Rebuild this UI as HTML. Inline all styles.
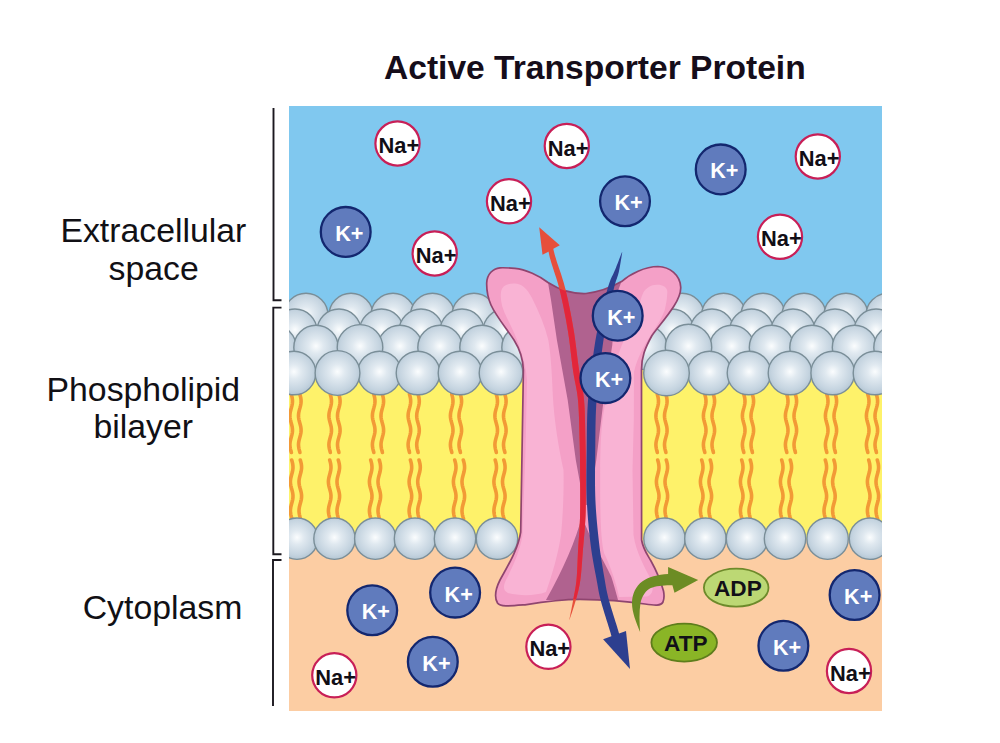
<!DOCTYPE html>
<html><head><meta charset="utf-8"><style>
html,body{margin:0;padding:0;background:#fff;}
svg{display:block;}
.title{font: bold 33.6px "Liberation Sans", sans-serif;}
.lab{font: 33.8px "Liberation Sans", sans-serif;}
.na{font: bold 22.8px "Liberation Sans", sans-serif;}
.kk{font: bold 22.3px "Liberation Sans", sans-serif;}
.atp{font: bold 22.6px "Liberation Sans", sans-serif;}
</style></head><body>
<svg width="1000" height="743" viewBox="0 0 1000 743">
<defs>
<clipPath id="pclip"><rect x="289" y="106" width="593" height="605"/></clipPath>
<radialGradient id="sph" cx="0.5" cy="0.47" r="0.56">
<stop offset="0" stop-color="#fbfdfe"/>
<stop offset="0.3" stop-color="#e0e9f0"/>
<stop offset="0.75" stop-color="#c5d4e0"/>
<stop offset="1" stop-color="#b0c3d1"/>
</radialGradient>
</defs>
<rect x="0" y="0" width="1000" height="743" fill="#ffffff"/>
<text x="384" y="78.5" class="title" fill="#150d1a">Active Transporter Protein</text>
<g class="lab" fill="#111015"><text x="60.4" y="242.3">Extracellular</text><text x="108.5" y="279.5">space</text><text x="46.5" y="400.6">Phospholipid</text><text x="93.4" y="437.6">bilayer</text><text x="82.7" y="618.5">Cytoplasm</text></g>
<g fill="none" stroke="#1b181f" stroke-width="1.9"><path d="M273.5,108 L273.5,300.2 L281.5,300.2"/><path d="M281.5,307.6 L273.3,307.6 L273.3,554.2 L281.5,554.2"/><path d="M281.5,560 L273,560 L273,706"/></g>
<g clip-path="url(#pclip)">
<rect x="289" y="106" width="593" height="230" fill="#80c8ef"/>
<rect x="289" y="330" width="593" height="210" fill="#fef26a"/>
<rect x="289" y="540" width="593" height="171" fill="#fccda3"/>
<polyline points="291.20,394.00 291.73,395.95 292.17,397.90 292.44,399.85 292.49,401.80 292.31,403.75 291.94,405.70 291.44,407.65 290.89,409.60 290.40,411.55 290.05,413.50 289.90,415.45 289.98,417.40 290.28,419.35 290.73,421.30 291.27,423.25 291.80,425.20 292.22,427.15 292.46,429.10 292.48,431.05 292.28,433.00 291.88,434.95 291.37,436.90 290.83,438.85 290.35,440.80 290.02,442.75 289.90,444.70 290.01,446.65 290.33,448.60 290.80,450.55 291.34,452.50" fill="none" stroke="#f29a36" stroke-width="3.6" stroke-linecap="round"/>
<polyline points="299.80,394.00 300.33,395.95 300.77,397.90 301.04,399.85 301.09,401.80 300.91,403.75 300.54,405.70 300.04,407.65 299.49,409.60 299.00,411.55 298.65,413.50 298.50,415.45 298.58,417.40 298.88,419.35 299.33,421.30 299.87,423.25 300.40,425.20 300.82,427.15 301.06,429.10 301.08,431.05 300.88,433.00 300.48,434.95 299.97,436.90 299.43,438.85 298.95,440.80 298.62,442.75 298.50,444.70 298.61,446.65 298.93,448.60 299.40,450.55 299.94,452.50" fill="none" stroke="#f29a36" stroke-width="3.6" stroke-linecap="round"/>
<polyline points="330.20,394.00 330.73,395.95 331.17,397.90 331.44,399.85 331.49,401.80 331.31,403.75 330.94,405.70 330.44,407.65 329.89,409.60 329.40,411.55 329.05,413.50 328.90,415.45 328.98,417.40 329.28,419.35 329.73,421.30 330.27,423.25 330.80,425.20 331.22,427.15 331.46,429.10 331.48,431.05 331.28,433.00 330.88,434.95 330.37,436.90 329.83,438.85 329.35,440.80 329.02,442.75 328.90,444.70 329.01,446.65 329.33,448.60 329.80,450.55 330.34,452.50" fill="none" stroke="#f29a36" stroke-width="3.6" stroke-linecap="round"/>
<polyline points="338.80,394.00 339.33,395.95 339.77,397.90 340.04,399.85 340.09,401.80 339.91,403.75 339.54,405.70 339.04,407.65 338.49,409.60 338.00,411.55 337.65,413.50 337.50,415.45 337.58,417.40 337.88,419.35 338.33,421.30 338.87,423.25 339.40,425.20 339.82,427.15 340.06,429.10 340.08,431.05 339.88,433.00 339.48,434.95 338.97,436.90 338.43,438.85 337.95,440.80 337.62,442.75 337.50,444.70 337.61,446.65 337.93,448.60 338.40,450.55 338.94,452.50" fill="none" stroke="#f29a36" stroke-width="3.6" stroke-linecap="round"/>
<polyline points="373.70,394.00 374.23,395.95 374.67,397.90 374.94,399.85 374.99,401.80 374.81,403.75 374.44,405.70 373.94,407.65 373.39,409.60 372.90,411.55 372.55,413.50 372.40,415.45 372.48,417.40 372.78,419.35 373.23,421.30 373.77,423.25 374.30,425.20 374.72,427.15 374.96,429.10 374.98,431.05 374.78,433.00 374.38,434.95 373.87,436.90 373.33,438.85 372.85,440.80 372.52,442.75 372.40,444.70 372.51,446.65 372.83,448.60 373.30,450.55 373.84,452.50" fill="none" stroke="#f29a36" stroke-width="3.6" stroke-linecap="round"/>
<polyline points="382.30,394.00 382.83,395.95 383.27,397.90 383.54,399.85 383.59,401.80 383.41,403.75 383.04,405.70 382.54,407.65 381.99,409.60 381.50,411.55 381.15,413.50 381.00,415.45 381.08,417.40 381.38,419.35 381.83,421.30 382.37,423.25 382.90,425.20 383.32,427.15 383.56,429.10 383.58,431.05 383.38,433.00 382.98,434.95 382.47,436.90 381.93,438.85 381.45,440.80 381.12,442.75 381.00,444.70 381.11,446.65 381.43,448.60 381.90,450.55 382.44,452.50" fill="none" stroke="#f29a36" stroke-width="3.6" stroke-linecap="round"/>
<polyline points="409.40,394.00 409.93,395.95 410.37,397.90 410.64,399.85 410.69,401.80 410.51,403.75 410.14,405.70 409.64,407.65 409.09,409.60 408.60,411.55 408.25,413.50 408.10,415.45 408.18,417.40 408.48,419.35 408.93,421.30 409.47,423.25 410.00,425.20 410.42,427.15 410.66,429.10 410.68,431.05 410.48,433.00 410.08,434.95 409.57,436.90 409.03,438.85 408.55,440.80 408.22,442.75 408.10,444.70 408.21,446.65 408.53,448.60 409.00,450.55 409.54,452.50" fill="none" stroke="#f29a36" stroke-width="3.6" stroke-linecap="round"/>
<polyline points="418.00,394.00 418.53,395.95 418.97,397.90 419.24,399.85 419.29,401.80 419.11,403.75 418.74,405.70 418.24,407.65 417.69,409.60 417.20,411.55 416.85,413.50 416.70,415.45 416.78,417.40 417.08,419.35 417.53,421.30 418.07,423.25 418.60,425.20 419.02,427.15 419.26,429.10 419.28,431.05 419.08,433.00 418.68,434.95 418.17,436.90 417.63,438.85 417.15,440.80 416.82,442.75 416.70,444.70 416.81,446.65 417.13,448.60 417.60,450.55 418.14,452.50" fill="none" stroke="#f29a36" stroke-width="3.6" stroke-linecap="round"/>
<polyline points="451.70,394.00 452.23,395.95 452.67,397.90 452.94,399.85 452.99,401.80 452.81,403.75 452.44,405.70 451.94,407.65 451.39,409.60 450.90,411.55 450.55,413.50 450.40,415.45 450.48,417.40 450.78,419.35 451.23,421.30 451.77,423.25 452.30,425.20 452.72,427.15 452.96,429.10 452.98,431.05 452.78,433.00 452.38,434.95 451.87,436.90 451.33,438.85 450.85,440.80 450.52,442.75 450.40,444.70 450.51,446.65 450.83,448.60 451.30,450.55 451.84,452.50" fill="none" stroke="#f29a36" stroke-width="3.6" stroke-linecap="round"/>
<polyline points="460.30,394.00 460.83,395.95 461.27,397.90 461.54,399.85 461.59,401.80 461.41,403.75 461.04,405.70 460.54,407.65 459.99,409.60 459.50,411.55 459.15,413.50 459.00,415.45 459.08,417.40 459.38,419.35 459.83,421.30 460.37,423.25 460.90,425.20 461.32,427.15 461.56,429.10 461.58,431.05 461.38,433.00 460.98,434.95 460.47,436.90 459.93,438.85 459.45,440.80 459.12,442.75 459.00,444.70 459.11,446.65 459.43,448.60 459.90,450.55 460.44,452.50" fill="none" stroke="#f29a36" stroke-width="3.6" stroke-linecap="round"/>
<polyline points="496.20,394.00 496.73,395.95 497.17,397.90 497.44,399.85 497.49,401.80 497.31,403.75 496.94,405.70 496.44,407.65 495.89,409.60 495.40,411.55 495.05,413.50 494.90,415.45 494.98,417.40 495.28,419.35 495.73,421.30 496.27,423.25 496.80,425.20 497.22,427.15 497.46,429.10 497.48,431.05 497.28,433.00 496.88,434.95 496.37,436.90 495.83,438.85 495.35,440.80 495.02,442.75 494.90,444.70 495.01,446.65 495.33,448.60 495.80,450.55 496.34,452.50" fill="none" stroke="#f29a36" stroke-width="3.6" stroke-linecap="round"/>
<polyline points="504.80,394.00 505.33,395.95 505.77,397.90 506.04,399.85 506.09,401.80 505.91,403.75 505.54,405.70 505.04,407.65 504.49,409.60 504.00,411.55 503.65,413.50 503.50,415.45 503.58,417.40 503.88,419.35 504.33,421.30 504.87,423.25 505.40,425.20 505.82,427.15 506.06,429.10 506.08,431.05 505.88,433.00 505.48,434.95 504.97,436.90 504.43,438.85 503.95,440.80 503.62,442.75 503.50,444.70 503.61,446.65 503.93,448.60 504.40,450.55 504.94,452.50" fill="none" stroke="#f29a36" stroke-width="3.6" stroke-linecap="round"/>
<polyline points="657.20,394.00 657.73,395.95 658.17,397.90 658.44,399.85 658.49,401.80 658.31,403.75 657.94,405.70 657.44,407.65 656.89,409.60 656.40,411.55 656.05,413.50 655.90,415.45 655.98,417.40 656.28,419.35 656.73,421.30 657.27,423.25 657.80,425.20 658.22,427.15 658.46,429.10 658.48,431.05 658.28,433.00 657.88,434.95 657.37,436.90 656.83,438.85 656.35,440.80 656.02,442.75 655.90,444.70 656.01,446.65 656.33,448.60 656.80,450.55 657.34,452.50" fill="none" stroke="#f29a36" stroke-width="3.6" stroke-linecap="round"/>
<polyline points="665.80,394.00 666.33,395.95 666.77,397.90 667.04,399.85 667.09,401.80 666.91,403.75 666.54,405.70 666.04,407.65 665.49,409.60 665.00,411.55 664.65,413.50 664.50,415.45 664.58,417.40 664.88,419.35 665.33,421.30 665.87,423.25 666.40,425.20 666.82,427.15 667.06,429.10 667.08,431.05 666.88,433.00 666.48,434.95 665.97,436.90 665.43,438.85 664.95,440.80 664.62,442.75 664.50,444.70 664.61,446.65 664.93,448.60 665.40,450.55 665.94,452.50" fill="none" stroke="#f29a36" stroke-width="3.6" stroke-linecap="round"/>
<polyline points="704.70,394.00 705.23,395.95 705.67,397.90 705.94,399.85 705.99,401.80 705.81,403.75 705.44,405.70 704.94,407.65 704.39,409.60 703.90,411.55 703.55,413.50 703.40,415.45 703.48,417.40 703.78,419.35 704.23,421.30 704.77,423.25 705.30,425.20 705.72,427.15 705.96,429.10 705.98,431.05 705.78,433.00 705.38,434.95 704.87,436.90 704.33,438.85 703.85,440.80 703.52,442.75 703.40,444.70 703.51,446.65 703.83,448.60 704.30,450.55 704.84,452.50" fill="none" stroke="#f29a36" stroke-width="3.6" stroke-linecap="round"/>
<polyline points="713.30,394.00 713.83,395.95 714.27,397.90 714.54,399.85 714.59,401.80 714.41,403.75 714.04,405.70 713.54,407.65 712.99,409.60 712.50,411.55 712.15,413.50 712.00,415.45 712.08,417.40 712.38,419.35 712.83,421.30 713.37,423.25 713.90,425.20 714.32,427.15 714.56,429.10 714.58,431.05 714.38,433.00 713.98,434.95 713.47,436.90 712.93,438.85 712.45,440.80 712.12,442.75 712.00,444.70 712.11,446.65 712.43,448.60 712.90,450.55 713.44,452.50" fill="none" stroke="#f29a36" stroke-width="3.6" stroke-linecap="round"/>
<polyline points="743.70,394.00 744.23,395.95 744.67,397.90 744.94,399.85 744.99,401.80 744.81,403.75 744.44,405.70 743.94,407.65 743.39,409.60 742.90,411.55 742.55,413.50 742.40,415.45 742.48,417.40 742.78,419.35 743.23,421.30 743.77,423.25 744.30,425.20 744.72,427.15 744.96,429.10 744.98,431.05 744.78,433.00 744.38,434.95 743.87,436.90 743.33,438.85 742.85,440.80 742.52,442.75 742.40,444.70 742.51,446.65 742.83,448.60 743.30,450.55 743.84,452.50" fill="none" stroke="#f29a36" stroke-width="3.6" stroke-linecap="round"/>
<polyline points="752.30,394.00 752.83,395.95 753.27,397.90 753.54,399.85 753.59,401.80 753.41,403.75 753.04,405.70 752.54,407.65 751.99,409.60 751.50,411.55 751.15,413.50 751.00,415.45 751.08,417.40 751.38,419.35 751.83,421.30 752.37,423.25 752.90,425.20 753.32,427.15 753.56,429.10 753.58,431.05 753.38,433.00 752.98,434.95 752.47,436.90 751.93,438.85 751.45,440.80 751.12,442.75 751.00,444.70 751.11,446.65 751.43,448.60 751.90,450.55 752.44,452.50" fill="none" stroke="#f29a36" stroke-width="3.6" stroke-linecap="round"/>
<polyline points="786.70,394.00 787.23,395.95 787.67,397.90 787.94,399.85 787.99,401.80 787.81,403.75 787.44,405.70 786.94,407.65 786.39,409.60 785.90,411.55 785.55,413.50 785.40,415.45 785.48,417.40 785.78,419.35 786.23,421.30 786.77,423.25 787.30,425.20 787.72,427.15 787.96,429.10 787.98,431.05 787.78,433.00 787.38,434.95 786.87,436.90 786.33,438.85 785.85,440.80 785.52,442.75 785.40,444.70 785.51,446.65 785.83,448.60 786.30,450.55 786.84,452.50" fill="none" stroke="#f29a36" stroke-width="3.6" stroke-linecap="round"/>
<polyline points="795.30,394.00 795.83,395.95 796.27,397.90 796.54,399.85 796.59,401.80 796.41,403.75 796.04,405.70 795.54,407.65 794.99,409.60 794.50,411.55 794.15,413.50 794.00,415.45 794.08,417.40 794.38,419.35 794.83,421.30 795.37,423.25 795.90,425.20 796.32,427.15 796.56,429.10 796.58,431.05 796.38,433.00 795.98,434.95 795.47,436.90 794.93,438.85 794.45,440.80 794.12,442.75 794.00,444.70 794.11,446.65 794.43,448.60 794.90,450.55 795.44,452.50" fill="none" stroke="#f29a36" stroke-width="3.6" stroke-linecap="round"/>
<polyline points="826.70,394.00 827.23,395.95 827.67,397.90 827.94,399.85 827.99,401.80 827.81,403.75 827.44,405.70 826.94,407.65 826.39,409.60 825.90,411.55 825.55,413.50 825.40,415.45 825.48,417.40 825.78,419.35 826.23,421.30 826.77,423.25 827.30,425.20 827.72,427.15 827.96,429.10 827.98,431.05 827.78,433.00 827.38,434.95 826.87,436.90 826.33,438.85 825.85,440.80 825.52,442.75 825.40,444.70 825.51,446.65 825.83,448.60 826.30,450.55 826.84,452.50" fill="none" stroke="#f29a36" stroke-width="3.6" stroke-linecap="round"/>
<polyline points="835.30,394.00 835.83,395.95 836.27,397.90 836.54,399.85 836.59,401.80 836.41,403.75 836.04,405.70 835.54,407.65 834.99,409.60 834.50,411.55 834.15,413.50 834.00,415.45 834.08,417.40 834.38,419.35 834.83,421.30 835.37,423.25 835.90,425.20 836.32,427.15 836.56,429.10 836.58,431.05 836.38,433.00 835.98,434.95 835.47,436.90 834.93,438.85 834.45,440.80 834.12,442.75 834.00,444.70 834.11,446.65 834.43,448.60 834.90,450.55 835.44,452.50" fill="none" stroke="#f29a36" stroke-width="3.6" stroke-linecap="round"/>
<polyline points="867.70,394.00 868.23,395.95 868.67,397.90 868.94,399.85 868.99,401.80 868.81,403.75 868.44,405.70 867.94,407.65 867.39,409.60 866.90,411.55 866.55,413.50 866.40,415.45 866.48,417.40 866.78,419.35 867.23,421.30 867.77,423.25 868.30,425.20 868.72,427.15 868.96,429.10 868.98,431.05 868.78,433.00 868.38,434.95 867.87,436.90 867.33,438.85 866.85,440.80 866.52,442.75 866.40,444.70 866.51,446.65 866.83,448.60 867.30,450.55 867.84,452.50" fill="none" stroke="#f29a36" stroke-width="3.6" stroke-linecap="round"/>
<polyline points="876.30,394.00 876.83,395.95 877.27,397.90 877.54,399.85 877.59,401.80 877.41,403.75 877.04,405.70 876.54,407.65 875.99,409.60 875.50,411.55 875.15,413.50 875.00,415.45 875.08,417.40 875.38,419.35 875.83,421.30 876.37,423.25 876.90,425.20 877.32,427.15 877.56,429.10 877.58,431.05 877.38,433.00 876.98,434.95 876.47,436.90 875.93,438.85 875.45,440.80 875.12,442.75 875.00,444.70 875.11,446.65 875.43,448.60 875.90,450.55 876.44,452.50" fill="none" stroke="#f29a36" stroke-width="3.6" stroke-linecap="round"/>
<polyline points="291.70,460.00 292.24,461.97 292.68,463.93 292.94,465.90 292.99,467.87 292.80,469.83 292.42,471.80 291.91,473.77 291.36,475.73 290.87,477.70 290.53,479.67 290.40,481.63 290.50,483.60 290.82,485.57 291.29,487.53 291.84,489.50 292.36,491.47 292.77,493.43 292.98,495.40 292.96,497.37 292.72,499.33 292.30,501.30 291.77,503.27 291.22,505.23 290.77,507.20 290.48,509.17 290.40,511.13 290.56,513.10 290.93,515.07 291.43,517.03 291.98,519.00" fill="none" stroke="#f29a36" stroke-width="3.6" stroke-linecap="round"/>
<polyline points="300.30,460.00 300.84,461.97 301.28,463.93 301.54,465.90 301.59,467.87 301.40,469.83 301.02,471.80 300.51,473.77 299.96,475.73 299.47,477.70 299.13,479.67 299.00,481.63 299.10,483.60 299.42,485.57 299.89,487.53 300.44,489.50 300.96,491.47 301.37,493.43 301.58,495.40 301.56,497.37 301.32,499.33 300.90,501.30 300.37,503.27 299.82,505.23 299.37,507.20 299.08,509.17 299.00,511.13 299.16,513.10 299.53,515.07 300.03,517.03 300.58,519.00" fill="none" stroke="#f29a36" stroke-width="3.6" stroke-linecap="round"/>
<polyline points="329.70,460.00 330.24,461.97 330.68,463.93 330.94,465.90 330.99,467.87 330.80,469.83 330.42,471.80 329.91,473.77 329.36,475.73 328.87,477.70 328.53,479.67 328.40,481.63 328.50,483.60 328.82,485.57 329.29,487.53 329.84,489.50 330.36,491.47 330.77,493.43 330.98,495.40 330.96,497.37 330.72,499.33 330.30,501.30 329.77,503.27 329.22,505.23 328.77,507.20 328.48,509.17 328.40,511.13 328.56,513.10 328.93,515.07 329.43,517.03 329.98,519.00" fill="none" stroke="#f29a36" stroke-width="3.6" stroke-linecap="round"/>
<polyline points="338.30,460.00 338.84,461.97 339.28,463.93 339.54,465.90 339.59,467.87 339.40,469.83 339.02,471.80 338.51,473.77 337.96,475.73 337.47,477.70 337.13,479.67 337.00,481.63 337.10,483.60 337.42,485.57 337.89,487.53 338.44,489.50 338.96,491.47 339.37,493.43 339.58,495.40 339.56,497.37 339.32,499.33 338.90,501.30 338.37,503.27 337.82,505.23 337.37,507.20 337.08,509.17 337.00,511.13 337.16,513.10 337.53,515.07 338.03,517.03 338.58,519.00" fill="none" stroke="#f29a36" stroke-width="3.6" stroke-linecap="round"/>
<polyline points="370.70,460.00 371.24,461.97 371.68,463.93 371.94,465.90 371.99,467.87 371.80,469.83 371.42,471.80 370.91,473.77 370.36,475.73 369.87,477.70 369.53,479.67 369.40,481.63 369.50,483.60 369.82,485.57 370.29,487.53 370.84,489.50 371.36,491.47 371.77,493.43 371.98,495.40 371.96,497.37 371.72,499.33 371.30,501.30 370.77,503.27 370.22,505.23 369.77,507.20 369.48,509.17 369.40,511.13 369.56,513.10 369.93,515.07 370.43,517.03 370.98,519.00" fill="none" stroke="#f29a36" stroke-width="3.6" stroke-linecap="round"/>
<polyline points="379.30,460.00 379.84,461.97 380.28,463.93 380.54,465.90 380.59,467.87 380.40,469.83 380.02,471.80 379.51,473.77 378.96,475.73 378.47,477.70 378.13,479.67 378.00,481.63 378.10,483.60 378.42,485.57 378.89,487.53 379.44,489.50 379.96,491.47 380.37,493.43 380.58,495.40 380.56,497.37 380.32,499.33 379.90,501.30 379.37,503.27 378.82,505.23 378.37,507.20 378.08,509.17 378.00,511.13 378.16,513.10 378.53,515.07 379.03,517.03 379.58,519.00" fill="none" stroke="#f29a36" stroke-width="3.6" stroke-linecap="round"/>
<polyline points="410.40,460.00 410.94,461.97 411.38,463.93 411.64,465.90 411.69,467.87 411.50,469.83 411.12,471.80 410.61,473.77 410.06,475.73 409.57,477.70 409.23,479.67 409.10,481.63 409.20,483.60 409.52,485.57 409.99,487.53 410.54,489.50 411.06,491.47 411.47,493.43 411.68,495.40 411.66,497.37 411.42,499.33 411.00,501.30 410.47,503.27 409.92,505.23 409.47,507.20 409.18,509.17 409.10,511.13 409.26,513.10 409.63,515.07 410.13,517.03 410.68,519.00" fill="none" stroke="#f29a36" stroke-width="3.6" stroke-linecap="round"/>
<polyline points="419.00,460.00 419.54,461.97 419.98,463.93 420.24,465.90 420.29,467.87 420.10,469.83 419.72,471.80 419.21,473.77 418.66,475.73 418.17,477.70 417.83,479.67 417.70,481.63 417.80,483.60 418.12,485.57 418.59,487.53 419.14,489.50 419.66,491.47 420.07,493.43 420.28,495.40 420.26,497.37 420.02,499.33 419.60,501.30 419.07,503.27 418.52,505.23 418.07,507.20 417.78,509.17 417.70,511.13 417.86,513.10 418.23,515.07 418.73,517.03 419.28,519.00" fill="none" stroke="#f29a36" stroke-width="3.6" stroke-linecap="round"/>
<polyline points="454.70,460.00 455.24,461.97 455.68,463.93 455.94,465.90 455.99,467.87 455.80,469.83 455.42,471.80 454.91,473.77 454.36,475.73 453.87,477.70 453.53,479.67 453.40,481.63 453.50,483.60 453.82,485.57 454.29,487.53 454.84,489.50 455.36,491.47 455.77,493.43 455.98,495.40 455.96,497.37 455.72,499.33 455.30,501.30 454.77,503.27 454.22,505.23 453.77,507.20 453.48,509.17 453.40,511.13 453.56,513.10 453.93,515.07 454.43,517.03 454.98,519.00" fill="none" stroke="#f29a36" stroke-width="3.6" stroke-linecap="round"/>
<polyline points="463.30,460.00 463.84,461.97 464.28,463.93 464.54,465.90 464.59,467.87 464.40,469.83 464.02,471.80 463.51,473.77 462.96,475.73 462.47,477.70 462.13,479.67 462.00,481.63 462.10,483.60 462.42,485.57 462.89,487.53 463.44,489.50 463.96,491.47 464.37,493.43 464.58,495.40 464.56,497.37 464.32,499.33 463.90,501.30 463.37,503.27 462.82,505.23 462.37,507.20 462.08,509.17 462.00,511.13 462.16,513.10 462.53,515.07 463.03,517.03 463.58,519.00" fill="none" stroke="#f29a36" stroke-width="3.6" stroke-linecap="round"/>
<polyline points="495.20,460.00 495.74,461.97 496.18,463.93 496.44,465.90 496.49,467.87 496.30,469.83 495.92,471.80 495.41,473.77 494.86,475.73 494.37,477.70 494.03,479.67 493.90,481.63 494.00,483.60 494.32,485.57 494.79,487.53 495.34,489.50 495.86,491.47 496.27,493.43 496.48,495.40 496.46,497.37 496.22,499.33 495.80,501.30 495.27,503.27 494.72,505.23 494.27,507.20 493.98,509.17 493.90,511.13 494.06,513.10 494.43,515.07 494.93,517.03 495.48,519.00" fill="none" stroke="#f29a36" stroke-width="3.6" stroke-linecap="round"/>
<polyline points="503.80,460.00 504.34,461.97 504.78,463.93 505.04,465.90 505.09,467.87 504.90,469.83 504.52,471.80 504.01,473.77 503.46,475.73 502.97,477.70 502.63,479.67 502.50,481.63 502.60,483.60 502.92,485.57 503.39,487.53 503.94,489.50 504.46,491.47 504.87,493.43 505.08,495.40 505.06,497.37 504.82,499.33 504.40,501.30 503.87,503.27 503.32,505.23 502.87,507.20 502.58,509.17 502.50,511.13 502.66,513.10 503.03,515.07 503.53,517.03 504.08,519.00" fill="none" stroke="#f29a36" stroke-width="3.6" stroke-linecap="round"/>
<polyline points="657.70,460.00 658.24,461.97 658.68,463.93 658.94,465.90 658.99,467.87 658.80,469.83 658.42,471.80 657.91,473.77 657.36,475.73 656.87,477.70 656.53,479.67 656.40,481.63 656.50,483.60 656.82,485.57 657.29,487.53 657.84,489.50 658.36,491.47 658.77,493.43 658.98,495.40 658.96,497.37 658.72,499.33 658.30,501.30 657.77,503.27 657.22,505.23 656.77,507.20 656.48,509.17 656.40,511.13 656.56,513.10 656.93,515.07 657.43,517.03 657.98,519.00" fill="none" stroke="#f29a36" stroke-width="3.6" stroke-linecap="round"/>
<polyline points="666.30,460.00 666.84,461.97 667.28,463.93 667.54,465.90 667.59,467.87 667.40,469.83 667.02,471.80 666.51,473.77 665.96,475.73 665.47,477.70 665.13,479.67 665.00,481.63 665.10,483.60 665.42,485.57 665.89,487.53 666.44,489.50 666.96,491.47 667.37,493.43 667.58,495.40 667.56,497.37 667.32,499.33 666.90,501.30 666.37,503.27 665.82,505.23 665.37,507.20 665.08,509.17 665.00,511.13 665.16,513.10 665.53,515.07 666.03,517.03 666.58,519.00" fill="none" stroke="#f29a36" stroke-width="3.6" stroke-linecap="round"/>
<polyline points="701.70,460.00 702.24,461.97 702.68,463.93 702.94,465.90 702.99,467.87 702.80,469.83 702.42,471.80 701.91,473.77 701.36,475.73 700.87,477.70 700.53,479.67 700.40,481.63 700.50,483.60 700.82,485.57 701.29,487.53 701.84,489.50 702.36,491.47 702.77,493.43 702.98,495.40 702.96,497.37 702.72,499.33 702.30,501.30 701.77,503.27 701.22,505.23 700.77,507.20 700.48,509.17 700.40,511.13 700.56,513.10 700.93,515.07 701.43,517.03 701.98,519.00" fill="none" stroke="#f29a36" stroke-width="3.6" stroke-linecap="round"/>
<polyline points="710.30,460.00 710.84,461.97 711.28,463.93 711.54,465.90 711.59,467.87 711.40,469.83 711.02,471.80 710.51,473.77 709.96,475.73 709.47,477.70 709.13,479.67 709.00,481.63 709.10,483.60 709.42,485.57 709.89,487.53 710.44,489.50 710.96,491.47 711.37,493.43 711.58,495.40 711.56,497.37 711.32,499.33 710.90,501.30 710.37,503.27 709.82,505.23 709.37,507.20 709.08,509.17 709.00,511.13 709.16,513.10 709.53,515.07 710.03,517.03 710.58,519.00" fill="none" stroke="#f29a36" stroke-width="3.6" stroke-linecap="round"/>
<polyline points="741.70,460.00 742.24,461.97 742.68,463.93 742.94,465.90 742.99,467.87 742.80,469.83 742.42,471.80 741.91,473.77 741.36,475.73 740.87,477.70 740.53,479.67 740.40,481.63 740.50,483.60 740.82,485.57 741.29,487.53 741.84,489.50 742.36,491.47 742.77,493.43 742.98,495.40 742.96,497.37 742.72,499.33 742.30,501.30 741.77,503.27 741.22,505.23 740.77,507.20 740.48,509.17 740.40,511.13 740.56,513.10 740.93,515.07 741.43,517.03 741.98,519.00" fill="none" stroke="#f29a36" stroke-width="3.6" stroke-linecap="round"/>
<polyline points="750.30,460.00 750.84,461.97 751.28,463.93 751.54,465.90 751.59,467.87 751.40,469.83 751.02,471.80 750.51,473.77 749.96,475.73 749.47,477.70 749.13,479.67 749.00,481.63 749.10,483.60 749.42,485.57 749.89,487.53 750.44,489.50 750.96,491.47 751.37,493.43 751.58,495.40 751.56,497.37 751.32,499.33 750.90,501.30 750.37,503.27 749.82,505.23 749.37,507.20 749.08,509.17 749.00,511.13 749.16,513.10 749.53,515.07 750.03,517.03 750.58,519.00" fill="none" stroke="#f29a36" stroke-width="3.6" stroke-linecap="round"/>
<polyline points="781.70,460.00 782.24,461.97 782.68,463.93 782.94,465.90 782.99,467.87 782.80,469.83 782.42,471.80 781.91,473.77 781.36,475.73 780.87,477.70 780.53,479.67 780.40,481.63 780.50,483.60 780.82,485.57 781.29,487.53 781.84,489.50 782.36,491.47 782.77,493.43 782.98,495.40 782.96,497.37 782.72,499.33 782.30,501.30 781.77,503.27 781.22,505.23 780.77,507.20 780.48,509.17 780.40,511.13 780.56,513.10 780.93,515.07 781.43,517.03 781.98,519.00" fill="none" stroke="#f29a36" stroke-width="3.6" stroke-linecap="round"/>
<polyline points="790.30,460.00 790.84,461.97 791.28,463.93 791.54,465.90 791.59,467.87 791.40,469.83 791.02,471.80 790.51,473.77 789.96,475.73 789.47,477.70 789.13,479.67 789.00,481.63 789.10,483.60 789.42,485.57 789.89,487.53 790.44,489.50 790.96,491.47 791.37,493.43 791.58,495.40 791.56,497.37 791.32,499.33 790.90,501.30 790.37,503.27 789.82,505.23 789.37,507.20 789.08,509.17 789.00,511.13 789.16,513.10 789.53,515.07 790.03,517.03 790.58,519.00" fill="none" stroke="#f29a36" stroke-width="3.6" stroke-linecap="round"/>
<polyline points="825.30,460.00 825.84,461.97 826.28,463.93 826.54,465.90 826.59,467.87 826.40,469.83 826.02,471.80 825.51,473.77 824.96,475.73 824.47,477.70 824.13,479.67 824.00,481.63 824.10,483.60 824.42,485.57 824.89,487.53 825.44,489.50 825.96,491.47 826.37,493.43 826.58,495.40 826.56,497.37 826.32,499.33 825.90,501.30 825.37,503.27 824.82,505.23 824.37,507.20 824.08,509.17 824.00,511.13 824.16,513.10 824.53,515.07 825.03,517.03 825.58,519.00" fill="none" stroke="#f29a36" stroke-width="3.6" stroke-linecap="round"/>
<polyline points="833.90,460.00 834.44,461.97 834.88,463.93 835.14,465.90 835.19,467.87 835.00,469.83 834.62,471.80 834.11,473.77 833.56,475.73 833.07,477.70 832.73,479.67 832.60,481.63 832.70,483.60 833.02,485.57 833.49,487.53 834.04,489.50 834.56,491.47 834.97,493.43 835.18,495.40 835.16,497.37 834.92,499.33 834.50,501.30 833.97,503.27 833.42,505.23 832.97,507.20 832.68,509.17 832.60,511.13 832.76,513.10 833.13,515.07 833.63,517.03 834.18,519.00" fill="none" stroke="#f29a36" stroke-width="3.6" stroke-linecap="round"/>
<polyline points="868.70,460.00 869.24,461.97 869.68,463.93 869.94,465.90 869.99,467.87 869.80,469.83 869.42,471.80 868.91,473.77 868.36,475.73 867.87,477.70 867.53,479.67 867.40,481.63 867.50,483.60 867.82,485.57 868.29,487.53 868.84,489.50 869.36,491.47 869.77,493.43 869.98,495.40 869.96,497.37 869.72,499.33 869.30,501.30 868.77,503.27 868.22,505.23 867.77,507.20 867.48,509.17 867.40,511.13 867.56,513.10 867.93,515.07 868.43,517.03 868.98,519.00" fill="none" stroke="#f29a36" stroke-width="3.6" stroke-linecap="round"/>
<polyline points="877.30,460.00 877.84,461.97 878.28,463.93 878.54,465.90 878.59,467.87 878.40,469.83 878.02,471.80 877.51,473.77 876.96,475.73 876.47,477.70 876.13,479.67 876.00,481.63 876.10,483.60 876.42,485.57 876.89,487.53 877.44,489.50 877.96,491.47 878.37,493.43 878.58,495.40 878.56,497.37 878.32,499.33 877.90,501.30 877.37,503.27 876.82,505.23 876.37,507.20 876.08,509.17 876.00,511.13 876.16,513.10 876.53,515.07 877.03,517.03 877.58,519.00" fill="none" stroke="#f29a36" stroke-width="3.6" stroke-linecap="round"/>
<circle cx="264" cy="315.3" r="22.0" fill="url(#sph)" stroke="#7a8e98" stroke-width="1.4"/>
<circle cx="306" cy="315.3" r="22.0" fill="url(#sph)" stroke="#7a8e98" stroke-width="1.4"/>
<circle cx="351" cy="315.3" r="22.0" fill="url(#sph)" stroke="#7a8e98" stroke-width="1.4"/>
<circle cx="393" cy="315.3" r="22.0" fill="url(#sph)" stroke="#7a8e98" stroke-width="1.4"/>
<circle cx="432.5" cy="315.3" r="22.0" fill="url(#sph)" stroke="#7a8e98" stroke-width="1.4"/>
<circle cx="474" cy="315.3" r="22.0" fill="url(#sph)" stroke="#7a8e98" stroke-width="1.4"/>
<circle cx="516" cy="315.3" r="22.0" fill="url(#sph)" stroke="#7a8e98" stroke-width="1.4"/>
<circle cx="682" cy="315.3" r="22.0" fill="url(#sph)" stroke="#7a8e98" stroke-width="1.4"/>
<circle cx="723.6" cy="315.3" r="22.0" fill="url(#sph)" stroke="#7a8e98" stroke-width="1.4"/>
<circle cx="763" cy="315.3" r="22.0" fill="url(#sph)" stroke="#7a8e98" stroke-width="1.4"/>
<circle cx="804" cy="315.3" r="22.0" fill="url(#sph)" stroke="#7a8e98" stroke-width="1.4"/>
<circle cx="846" cy="315.3" r="22.0" fill="url(#sph)" stroke="#7a8e98" stroke-width="1.4"/>
<circle cx="888" cy="315.3" r="22.0" fill="url(#sph)" stroke="#7a8e98" stroke-width="1.4"/>
<circle cx="253" cy="331.0" r="22.0" fill="url(#sph)" stroke="#7a8e98" stroke-width="1.4"/>
<circle cx="295" cy="331.0" r="22.0" fill="url(#sph)" stroke="#7a8e98" stroke-width="1.4"/>
<circle cx="339" cy="331.0" r="22.0" fill="url(#sph)" stroke="#7a8e98" stroke-width="1.4"/>
<circle cx="381.5" cy="331.0" r="22.0" fill="url(#sph)" stroke="#7a8e98" stroke-width="1.4"/>
<circle cx="421" cy="331.0" r="22.0" fill="url(#sph)" stroke="#7a8e98" stroke-width="1.4"/>
<circle cx="462" cy="331.0" r="22.0" fill="url(#sph)" stroke="#7a8e98" stroke-width="1.4"/>
<circle cx="505" cy="331.0" r="22.0" fill="url(#sph)" stroke="#7a8e98" stroke-width="1.4"/>
<circle cx="672" cy="331.0" r="22.0" fill="url(#sph)" stroke="#7a8e98" stroke-width="1.4"/>
<circle cx="712" cy="331.0" r="22.0" fill="url(#sph)" stroke="#7a8e98" stroke-width="1.4"/>
<circle cx="751.5" cy="331.0" r="22.0" fill="url(#sph)" stroke="#7a8e98" stroke-width="1.4"/>
<circle cx="793" cy="331.0" r="22.0" fill="url(#sph)" stroke="#7a8e98" stroke-width="1.4"/>
<circle cx="835" cy="331.0" r="22.0" fill="url(#sph)" stroke="#7a8e98" stroke-width="1.4"/>
<circle cx="876" cy="331.0" r="22.0" fill="url(#sph)" stroke="#7a8e98" stroke-width="1.4"/>
<circle cx="918" cy="331.0" r="22.0" fill="url(#sph)" stroke="#7a8e98" stroke-width="1.4"/>
<circle cx="274" cy="347.4" r="22.2" fill="url(#sph)" stroke="#7a8e98" stroke-width="1.4"/>
<circle cx="316" cy="347.4" r="22.2" fill="url(#sph)" stroke="#7a8e98" stroke-width="1.4"/>
<circle cx="400" cy="347.4" r="22.2" fill="url(#sph)" stroke="#7a8e98" stroke-width="1.4"/>
<circle cx="440" cy="347.4" r="22.2" fill="url(#sph)" stroke="#7a8e98" stroke-width="1.4"/>
<circle cx="482" cy="347.4" r="22.2" fill="url(#sph)" stroke="#7a8e98" stroke-width="1.4"/>
<circle cx="524" cy="347.4" r="22.2" fill="url(#sph)" stroke="#7a8e98" stroke-width="1.4"/>
<circle cx="645" cy="347.4" r="22.2" fill="url(#sph)" stroke="#7a8e98" stroke-width="1.4"/>
<circle cx="731.8" cy="347.4" r="22.2" fill="url(#sph)" stroke="#7a8e98" stroke-width="1.4"/>
<circle cx="771.5" cy="347.4" r="22.2" fill="url(#sph)" stroke="#7a8e98" stroke-width="1.4"/>
<circle cx="812" cy="347.4" r="22.2" fill="url(#sph)" stroke="#7a8e98" stroke-width="1.4"/>
<circle cx="854.5" cy="347.4" r="22.2" fill="url(#sph)" stroke="#7a8e98" stroke-width="1.4"/>
<circle cx="896" cy="347.4" r="22.2" fill="url(#sph)" stroke="#7a8e98" stroke-width="1.4"/>
<circle cx="360" cy="347.4" r="22.8" fill="url(#sph)" stroke="#7a8e98" stroke-width="1.4"/>
<circle cx="688.5" cy="347.4" r="23.2" fill="url(#sph)" stroke="#7a8e98" stroke-width="1.4"/>
<circle cx="294" cy="373.0" r="21.8" fill="url(#sph)" stroke="#7a8e98" stroke-width="1.4"/>
<circle cx="379.5" cy="373.0" r="21.8" fill="url(#sph)" stroke="#7a8e98" stroke-width="1.4"/>
<circle cx="418" cy="373.0" r="21.8" fill="url(#sph)" stroke="#7a8e98" stroke-width="1.4"/>
<circle cx="460" cy="373.0" r="21.8" fill="url(#sph)" stroke="#7a8e98" stroke-width="1.4"/>
<circle cx="501" cy="373.0" r="21.8" fill="url(#sph)" stroke="#7a8e98" stroke-width="1.4"/>
<circle cx="709.5" cy="373.0" r="21.8" fill="url(#sph)" stroke="#7a8e98" stroke-width="1.4"/>
<circle cx="749" cy="373.0" r="21.8" fill="url(#sph)" stroke="#7a8e98" stroke-width="1.4"/>
<circle cx="790" cy="373.0" r="21.8" fill="url(#sph)" stroke="#7a8e98" stroke-width="1.4"/>
<circle cx="832.7" cy="373.0" r="21.8" fill="url(#sph)" stroke="#7a8e98" stroke-width="1.4"/>
<circle cx="875" cy="373.0" r="21.8" fill="url(#sph)" stroke="#7a8e98" stroke-width="1.4"/>
<circle cx="337.5" cy="373.0" r="22.4" fill="url(#sph)" stroke="#7a8e98" stroke-width="1.4"/>
<circle cx="666.5" cy="373.0" r="22.8" fill="url(#sph)" stroke="#7a8e98" stroke-width="1.4"/>
<circle cx="297" cy="538.7" r="20.7" fill="url(#sph)" stroke="#7a8e98" stroke-width="1.4"/>
<circle cx="334.5" cy="538.7" r="20.7" fill="url(#sph)" stroke="#7a8e98" stroke-width="1.4"/>
<circle cx="375.3" cy="538.7" r="20.7" fill="url(#sph)" stroke="#7a8e98" stroke-width="1.4"/>
<circle cx="415" cy="538.7" r="20.7" fill="url(#sph)" stroke="#7a8e98" stroke-width="1.4"/>
<circle cx="455" cy="538.7" r="20.7" fill="url(#sph)" stroke="#7a8e98" stroke-width="1.4"/>
<circle cx="497" cy="538.7" r="20.7" fill="url(#sph)" stroke="#7a8e98" stroke-width="1.4"/>
<circle cx="664.5" cy="538.7" r="20.7" fill="url(#sph)" stroke="#7a8e98" stroke-width="1.4"/>
<circle cx="705.4" cy="538.7" r="20.7" fill="url(#sph)" stroke="#7a8e98" stroke-width="1.4"/>
<circle cx="747" cy="538.7" r="20.7" fill="url(#sph)" stroke="#7a8e98" stroke-width="1.4"/>
<circle cx="785" cy="538.7" r="20.7" fill="url(#sph)" stroke="#7a8e98" stroke-width="1.4"/>
<circle cx="827.6" cy="538.7" r="20.7" fill="url(#sph)" stroke="#7a8e98" stroke-width="1.4"/>
<circle cx="870" cy="538.7" r="20.7" fill="url(#sph)" stroke="#7a8e98" stroke-width="1.4"/>
<defs><clipPath id="protclip"><path d="M500,267.8 C493,268.5 487,274 486.7,283 C486.5,292 488,298 491,305 C496,316 506,328 514,340 C519,348 523,357 523.4,370 L520.7,532 C518,550 507,567 500,580 C496,588 494,597 497.5,603 C500,607 510,606 525,604.8 C545,601.5 560,599.3 580,599.3 C605,599.5 625,601 645,604 C655,605.5 661,606 663,602 C664.5,598 664.5,596 663.5,591 C661,582 656,570 651,561 C647,554 643,549 641.6,540 L641.5,370 C641.5,357 645,348 652,335.5 C658,327 667,317 674,306 C679,298 681,292 680.7,287 C680,275 670,267 658,266.5 C645,266.5 630,274 621.5,281.6 C612,287 600,292 586,293.5 C570,294 558,289 548,282.5 C540,276 525,269 515,268.3 C508,267.8 504,267.6 500,267.8 Z"/></clipPath></defs>
<path d="M500,267.8 C493,268.5 487,274 486.7,283 C486.5,292 488,298 491,305 C496,316 506,328 514,340 C519,348 523,357 523.4,370 L520.7,532 C518,550 507,567 500,580 C496,588 494,597 497.5,603 C500,607 510,606 525,604.8 C545,601.5 560,599.3 580,599.3 C605,599.5 625,601 645,604 C655,605.5 661,606 663,602 C664.5,598 664.5,596 663.5,591 C661,582 656,570 651,561 C647,554 643,549 641.6,540 L641.5,370 C641.5,357 645,348 652,335.5 C658,327 667,317 674,306 C679,298 681,292 680.7,287 C680,275 670,267 658,266.5 C645,266.5 630,274 621.5,281.6 C612,287 600,292 586,293.5 C570,294 558,289 548,282.5 C540,276 525,269 515,268.3 C508,267.8 504,267.6 500,267.8 Z" fill="#f4a0c7"/>
<path d="M513.5,283.5 C521,283 527,288 532,298 C539,312 545,326 548.3,340 C551,355 552,375 552.8,395 C554,420 559,450 563.5,470 C564,490 563,515 561,535 C558,555 552,575 546,592 C535,596 520,596 508,593 C503,591 503,586 506,580 C512,568 520,552 522.5,535 L525.5,450 L527,380 C526,360 516,335 507,318 C502,308 500,300 501,292 C502,286 507,283.5 513.5,283.5 Z" fill="#f9b3d4"/>
<path d="M656.6,284.8 C662,284.5 667.5,287 667.3,292 C667,300 666,305 664.6,310.4 C660,322 655,328 651.2,334.6 C645,344 637,358 634,372 L633.8,420 L632.5,470 L633.5,535 C636,553 646,570 651.6,580.6 C654,588 653,595 647,596.5 L619,597 C617,585 610,565 604,553 C601,540 600,520 600.2,470 C600.5,440 601.5,430 602.6,420 C606,395 615,360 624,340 C630,325 634,315 637.7,310.4 C640,303 641,297 643.1,292.9 C646,288 651,284.8 656.6,284.8 Z" fill="#f9b3d4"/>
<path d="M548,282.5 C558,289 570,294 586,293.5 C600,292 612,287 621.5,281.6 L614.6,300 L612.3,345 L603.6,400 L596.3,460 L589,505 L584,505 L575.8,460 L567.7,400 L556.9,340 L551,300 Z" fill="#b0628f"/>
<path d="M582,516 C576,540 563,570 546,600 L618,600 C616,592 613,582 611.2,576.6 C603,558 590,540 582,516 Z" fill="#b0628f" clip-path="url(#protclip)"/>
<path d="M500,267.8 C493,268.5 487,274 486.7,283 C486.5,292 488,298 491,305 C496,316 506,328 514,340 C519,348 523,357 523.4,370 L520.7,532 C518,550 507,567 500,580 C496,588 494,597 497.5,603 C500,607 510,606 525,604.8 C545,601.5 560,599.3 580,599.3 C605,599.5 625,601 645,604 C655,605.5 661,606 663,602 C664.5,598 664.5,596 663.5,591 C661,582 656,570 651,561 C647,554 643,549 641.6,540 L641.5,370 C641.5,357 645,348 652,335.5 C658,327 667,317 674,306 C679,298 681,292 680.7,287 C680,275 670,267 658,266.5 C645,266.5 630,274 621.5,281.6 C612,287 600,292 586,293.5 C570,294 558,289 548,282.5 C540,276 525,269 515,268.3 C508,267.8 504,267.6 500,267.8 Z" fill="none" stroke="#8f456f" stroke-width="1.7"/>
<path d="M547.14,243.45 L547.23,243.97 L547.33,244.64 L547.46,245.44 L547.60,246.34 L547.76,247.33 L547.93,248.36 L548.11,249.43 L548.30,250.51 L548.51,251.57 L548.72,252.59 L548.91,253.48 L549.07,254.26 L549.23,255.00 L549.39,255.74 L549.58,256.52 L549.80,257.40 L550.07,258.42 L550.40,259.62 L550.81,261.07 L551.32,262.82 L551.94,264.86 L552.67,267.11 L553.47,269.55 L554.34,272.15 L555.25,274.91 L556.18,277.81 L557.12,280.83 L558.04,283.96 L558.94,287.19 L559.79,290.50 L560.62,293.98 L561.46,297.69 L562.32,301.57 L563.17,305.59 L564.01,309.71 L564.84,313.89 L565.65,318.10 L566.42,322.29 L567.15,326.43 L567.84,330.47 L568.47,334.49 L569.06,338.58 L569.60,342.71 L570.12,346.86 L570.62,350.99 L571.09,355.08 L571.57,359.10 L572.04,363.02 L572.53,366.81 L573.03,370.44 L573.56,373.85 L574.12,377.02 L574.68,379.99 L575.23,382.83 L575.78,385.58 L576.30,388.31 L576.80,391.08 L577.25,393.95 L577.66,397.00 L578.01,400.28 L578.31,403.85 L578.56,407.69 L578.77,411.71 L578.94,415.86 L579.08,420.08 L579.20,424.31 L579.31,428.48 L579.41,432.54 L579.50,436.43 L579.60,440.08 L579.70,443.42 L579.78,446.47 L579.85,449.33 L579.90,452.06 L579.95,454.74 L579.99,457.44 L580.02,460.24 L580.05,463.22 L580.08,466.45 L580.10,470.01 L580.13,473.95 L580.16,478.21 L580.20,482.72 L580.23,487.41 L580.26,492.19 L580.27,496.99 L580.26,501.74 L580.24,506.36 L580.18,510.78 L580.10,514.92 L579.98,518.81 L579.83,522.58 L579.64,526.23 L579.43,529.78 L579.21,533.25 L578.97,536.64 L578.74,539.98 L578.51,543.29 L578.30,546.57 L578.11,549.84 L577.94,553.10 L577.79,556.34 L577.65,559.55 L577.52,562.71 L577.39,565.81 L577.25,568.82 L577.10,571.74 L576.93,574.55 L576.74,577.23 L576.51,579.78 L576.26,582.15 L575.98,584.36 L575.68,586.44 L575.36,588.41 L575.03,590.30 L574.68,592.16 L574.33,593.99 L573.96,595.85 L573.60,597.74 L573.23,599.71 L572.85,601.79 L572.43,604.01 L571.98,606.32 L571.52,608.64 L571.07,610.93 L570.63,613.12 L570.22,615.15 L569.85,616.95 L569.54,618.48 L569.30,619.67 L569.50,619.73 L569.88,618.57 L570.38,617.10 L570.97,615.35 L571.63,613.39 L572.35,611.27 L573.08,609.05 L573.81,606.79 L574.52,604.54 L575.18,602.35 L575.77,600.29 L576.30,598.37 L576.81,596.51 L577.30,594.68 L577.78,592.85 L578.25,590.98 L578.69,589.06 L579.12,587.05 L579.53,584.93 L579.92,582.66 L580.29,580.22 L580.63,577.62 L580.93,574.89 L581.21,572.05 L581.47,569.10 L581.71,566.07 L581.95,562.97 L582.18,559.81 L582.41,556.62 L582.64,553.39 L582.89,550.16 L583.16,546.93 L583.45,543.67 L583.74,540.38 L584.04,537.04 L584.33,533.63 L584.61,530.14 L584.88,526.56 L585.12,522.86 L585.33,519.04 L585.50,515.08 L585.63,510.90 L585.73,506.44 L585.81,501.79 L585.86,497.01 L585.89,492.19 L585.91,487.39 L585.92,482.70 L585.91,478.19 L585.91,473.92 L585.90,469.99 L585.89,466.42 L585.87,463.18 L585.84,460.18 L585.81,457.36 L585.76,454.64 L585.71,451.94 L585.64,449.20 L585.57,446.33 L585.49,443.26 L585.40,439.92 L585.31,436.29 L585.23,432.42 L585.16,428.36 L585.08,424.17 L584.98,419.92 L584.86,415.66 L584.71,411.45 L584.52,407.35 L584.28,403.43 L583.99,399.72 L583.63,396.28 L583.21,393.09 L582.74,390.08 L582.23,387.21 L581.69,384.42 L581.14,381.65 L580.59,378.85 L580.03,375.94 L579.49,372.87 L578.97,369.56 L578.46,366.00 L577.96,362.27 L577.47,358.38 L576.98,354.38 L576.47,350.28 L575.95,346.13 L575.41,341.95 L574.83,337.77 L574.22,333.62 L573.56,329.53 L572.86,325.44 L572.12,321.26 L571.34,317.03 L570.53,312.79 L569.70,308.57 L568.85,304.41 L567.99,300.34 L567.13,296.41 L566.27,292.66 L565.41,289.10 L564.53,285.69 L563.59,282.36 L562.62,279.15 L561.65,276.06 L560.68,273.12 L559.74,270.34 L558.85,267.74 L558.03,265.33 L557.30,263.15 L556.68,261.18 L556.16,259.48 L555.73,258.07 L555.38,256.90 L555.09,255.94 L554.86,255.13 L554.65,254.41 L554.47,253.73 L554.29,253.04 L554.10,252.28 L553.88,251.41 L553.66,250.47 L553.43,249.47 L553.22,248.45 L553.01,247.43 L552.81,246.42 L552.62,245.46 L552.45,244.57 L552.30,243.78 L552.17,243.09 L552.06,242.55 Z" fill="#e64f3b"/>
<path d="M547.14,243.45 L547.23,243.97 L547.33,244.64 L547.46,245.44 L547.60,246.34 L547.76,247.33 L547.93,248.36 L548.11,249.43 L548.30,250.51 L548.51,251.57 L548.72,252.59 L548.91,253.48 L549.07,254.26 L549.23,255.00 L549.39,255.74 L549.58,256.52 L549.80,257.40 L550.07,258.42 L550.40,259.62 L550.81,261.07 L551.32,262.82 L551.94,264.86 L552.67,267.11 L553.47,269.55 L554.34,272.15 L555.25,274.91 L556.18,277.81 L557.12,280.83 L558.04,283.96 L558.94,287.19 L559.79,290.50 L560.62,293.98 L561.46,297.69 L562.32,301.57 L563.17,305.59 L564.01,309.71 L564.84,313.89 L565.65,318.10 L566.42,322.29 L567.15,326.43 L567.84,330.47 L568.47,334.49 L569.06,338.58 L569.60,342.71 L570.12,346.86 L570.62,350.99 L571.09,355.08 L571.57,359.10 L572.04,363.02 L572.53,366.81 L573.03,370.44 L573.56,373.85 L574.12,377.02 L574.68,379.99 L575.23,382.83 L575.78,385.58 L576.30,388.31 L576.80,391.08 L577.25,393.95 L577.66,397.00 L578.01,400.28 L578.31,403.85 L578.56,407.69 L578.77,411.71 L578.94,415.86 L579.08,420.08 L579.20,424.31 L579.31,428.48 L579.41,432.54 L579.50,436.43 L579.60,440.08 L579.70,443.42 L579.78,446.47 L579.85,449.33 L579.90,452.06 L579.95,454.74 L579.99,457.44 L580.02,460.24 L580.05,463.22 L580.08,466.45 L580.10,470.01 L580.13,473.95 L580.16,478.21 L580.20,482.72 L580.23,487.41 L580.26,492.19 L580.27,496.99 L580.26,501.74 L580.24,506.36 L580.18,510.78 L580.10,514.92 L579.98,518.81 L579.83,522.58 L579.64,526.23 L579.43,529.78 L579.21,533.25 L578.97,536.64 L578.74,539.98 L578.51,543.29 L578.30,546.57 L578.11,549.84 L577.94,553.10 L577.79,556.34 L577.65,559.55 L577.52,562.71 L577.39,565.81 L577.25,568.82 L577.10,571.74 L576.93,574.55 L576.74,577.23 L576.51,579.78 L576.26,582.15 L575.98,584.36 L575.68,586.44 L575.36,588.41 L575.03,590.30 L574.68,592.16 L574.33,593.99 L573.96,595.85 L573.60,597.74 L573.23,599.71 L572.85,601.79 L572.43,604.01 L571.98,606.32 L571.52,608.64 L571.07,610.93 L570.63,613.12 L570.22,615.15 L569.85,616.95 L569.54,618.48 L569.30,619.67 L569.50,619.73 L569.88,618.57 L570.38,617.10 L570.97,615.35 L571.63,613.39 L572.35,611.27 L573.08,609.05 L573.81,606.79 L574.52,604.54 L575.18,602.35 L575.77,600.29 L576.30,598.37 L576.81,596.51 L577.30,594.68 L577.78,592.85 L578.25,590.98 L578.69,589.06 L579.12,587.05 L579.53,584.93 L579.92,582.66 L580.29,580.22 L580.63,577.62 L580.93,574.89 L581.21,572.05 L581.47,569.10 L581.71,566.07 L581.95,562.97 L582.18,559.81 L582.41,556.62 L582.64,553.39 L582.89,550.16 L583.16,546.93 L583.45,543.67 L583.74,540.38 L584.04,537.04 L584.33,533.63 L584.61,530.14 L584.88,526.56 L585.12,522.86 L585.33,519.04 L585.50,515.08 L585.63,510.90 L585.73,506.44 L585.81,501.79 L585.86,497.01 L585.89,492.19 L585.91,487.39 L585.92,482.70 L585.91,478.19 L585.91,473.92 L585.90,469.99 L585.89,466.42 L585.87,463.18 L585.84,460.18 L585.81,457.36 L585.76,454.64 L585.71,451.94 L585.64,449.20 L585.57,446.33 L585.49,443.26 L585.40,439.92 L585.31,436.29 L585.23,432.42 L585.16,428.36 L585.08,424.17 L584.98,419.92 L584.86,415.66 L584.71,411.45 L584.52,407.35 L584.28,403.43 L583.99,399.72 L583.63,396.28 L583.21,393.09 L582.74,390.08 L582.23,387.21 L581.69,384.42 L581.14,381.65 L580.59,378.85 L580.03,375.94 L579.49,372.87 L578.97,369.56 L578.46,366.00 L577.96,362.27 L577.47,358.38 L576.98,354.38 L576.47,350.28 L575.95,346.13 L575.41,341.95 L574.83,337.77 L574.22,333.62 L573.56,329.53 L572.86,325.44 L572.12,321.26 L571.34,317.03 L570.53,312.79 L569.70,308.57 L568.85,304.41 L567.99,300.34 L567.13,296.41 L566.27,292.66 L565.41,289.10 L564.53,285.69 L563.59,282.36 L562.62,279.15 L561.65,276.06 L560.68,273.12 L559.74,270.34 L558.85,267.74 L558.03,265.33 L557.30,263.15 L556.68,261.18 L556.16,259.48 L555.73,258.07 L555.38,256.90 L555.09,255.94 L554.86,255.13 L554.65,254.41 L554.47,253.73 L554.29,253.04 L554.10,252.28 L553.88,251.41 L553.66,250.47 L553.43,249.47 L553.22,248.45 L553.01,247.43 L552.81,246.42 L552.62,245.46 L552.45,244.57 L552.30,243.78 L552.17,243.09 L552.06,242.55 Z" fill="#e2263b" clip-path="url(#protclip)"/>
<path d="M539.2,227.2 L559.8,245.3 L553.8,248.6 L548.4,251.8 L542.5,254.8 Z" fill="#e64f3b"/>
<path d="M621.96,252.16 L621.51,253.30 L620.93,254.79 L620.25,256.57 L619.48,258.56 L618.66,260.68 L617.81,262.88 L616.95,265.06 L616.12,267.17 L615.35,269.13 L614.65,270.85 L614.03,272.29 L613.46,273.54 L612.91,274.66 L612.37,275.74 L611.82,276.84 L611.26,278.03 L610.68,279.36 L610.07,280.88 L609.43,282.65 L608.76,284.70 L608.05,287.03 L607.31,289.61 L606.54,292.40 L605.75,295.35 L604.95,298.43 L604.14,301.59 L603.34,304.80 L602.56,308.01 L601.80,311.18 L601.08,314.26 L600.39,317.18 L599.73,319.97 L599.08,322.69 L598.44,325.43 L597.81,328.23 L597.18,331.16 L596.55,334.28 L595.92,337.66 L595.29,341.36 L594.64,345.43 L593.97,349.93 L593.25,354.84 L592.52,360.10 L591.77,365.62 L591.04,371.31 L590.33,377.11 L589.66,382.92 L589.05,388.68 L588.51,394.29 L588.06,399.69 L587.71,404.91 L587.44,410.06 L587.23,415.15 L587.09,420.18 L586.99,425.18 L586.92,430.14 L586.88,435.09 L586.84,440.03 L586.80,444.98 L586.75,449.95 L586.68,454.97 L586.61,460.03 L586.54,465.11 L586.49,470.21 L586.45,475.30 L586.44,480.37 L586.46,485.41 L586.52,490.40 L586.63,495.33 L586.80,500.18 L587.03,504.98 L587.31,509.76 L587.63,514.50 L588.00,519.20 L588.40,523.83 L588.82,528.38 L589.28,532.84 L589.75,537.19 L590.24,541.42 L590.73,545.52 L591.26,549.54 L591.84,553.49 L592.46,557.35 L593.10,561.11 L593.75,564.75 L594.40,568.26 L595.04,571.63 L595.65,574.83 L596.23,577.86 L596.76,580.70 L597.22,583.26 L597.62,585.52 L597.98,587.54 L598.31,589.40 L598.63,591.19 L598.98,592.96 L599.36,594.78 L599.80,596.72 L600.32,598.84 L600.93,601.23 L601.68,603.97 L602.57,607.02 L603.54,610.28 L604.58,613.66 L605.63,617.07 L606.67,620.39 L607.67,623.54 L608.57,626.42 L609.35,628.92 L609.97,630.95 L610.44,632.52 L610.79,633.74 L611.05,634.65 L611.22,635.29 L611.33,635.71 L611.39,635.98 L611.43,636.16 L611.48,636.37 L611.55,636.68 L611.63,637.00 L619.37,635.00 L619.32,634.79 L619.30,634.69 L619.26,634.51 L619.19,634.20 L619.09,633.79 L618.95,633.23 L618.75,632.50 L618.48,631.53 L618.11,630.27 L617.63,628.65 L617.00,626.57 L616.21,624.03 L615.30,621.14 L614.31,617.99 L613.27,614.68 L612.22,611.31 L611.20,607.97 L610.24,604.76 L609.38,601.80 L608.67,599.17 L608.08,596.89 L607.58,594.87 L607.16,593.05 L606.79,591.35 L606.45,589.69 L606.13,587.98 L605.81,586.17 L605.47,584.16 L605.08,581.89 L604.64,579.30 L604.14,576.43 L603.61,573.38 L603.06,570.18 L602.50,566.83 L601.93,563.35 L601.36,559.75 L600.80,556.05 L600.26,552.26 L599.75,548.41 L599.27,544.48 L598.80,540.43 L598.34,536.25 L597.88,531.94 L597.43,527.54 L597.00,523.05 L596.60,518.48 L596.24,513.86 L595.91,509.20 L595.63,504.52 L595.40,499.82 L595.22,495.08 L595.11,490.24 L595.03,485.33 L595.00,480.35 L595.00,475.33 L595.03,470.27 L595.07,465.20 L595.13,460.13 L595.19,455.08 L595.25,450.05 L595.30,445.06 L595.34,440.10 L595.38,435.16 L595.44,430.24 L595.51,425.32 L595.62,420.39 L595.76,415.44 L595.96,410.45 L596.21,405.41 L596.54,400.31 L596.95,395.02 L597.45,389.50 L598.01,383.82 L598.63,378.06 L599.29,372.31 L599.97,366.66 L600.65,361.17 L601.32,355.94 L601.96,351.05 L602.56,346.57 L603.11,342.57 L603.65,338.94 L604.17,335.64 L604.68,332.58 L605.19,329.71 L605.71,326.95 L606.23,324.24 L606.77,321.51 L607.33,318.69 L607.92,315.74 L608.54,312.66 L609.19,309.50 L609.87,306.30 L610.56,303.10 L611.25,299.94 L611.94,296.87 L612.62,293.93 L613.27,291.16 L613.88,288.60 L614.44,286.30 L614.95,284.35 L615.42,282.70 L615.86,281.29 L616.28,280.05 L616.69,278.88 L617.10,277.74 L617.51,276.54 L617.93,275.24 L618.34,273.79 L618.75,272.15 L619.16,270.27 L619.57,268.17 L619.98,265.92 L620.39,263.59 L620.78,261.27 L621.15,259.01 L621.49,256.91 L621.79,255.02 L622.04,253.44 L622.24,252.24 Z" fill="#2d3f8f"/>
<path d="M603.1,639.3 L626,630.9 L630,668.9 Z" fill="#2d3f8f"/>
<circle cx="617.7" cy="315.7" r="24.9" fill="#607bbd" stroke="#13276f" stroke-width="2.3"/><text transform="translate(607.20,324.70) scale(0.97,1)" class="kk" fill="#ffffff">K+</text>
<circle cx="605.4" cy="378.1" r="24.9" fill="#607bbd" stroke="#13276f" stroke-width="2.3"/><text transform="translate(594.90,387.10) scale(0.97,1)" class="kk" fill="#ffffff">K+</text>
</g>
<circle cx="397.5" cy="143.5" r="22.1" fill="#ffffff" stroke="#c81f57" stroke-width="2.2"/><text transform="translate(378.50,153.10) scale(0.96,1)" class="na" fill="#110e16">Na+</text>
<circle cx="434.7" cy="253.5" r="22.1" fill="#ffffff" stroke="#c81f57" stroke-width="2.2"/><text transform="translate(415.70,263.10) scale(0.96,1)" class="na" fill="#110e16">Na+</text>
<circle cx="566.8" cy="146" r="22.1" fill="#ffffff" stroke="#c81f57" stroke-width="2.2"/><text transform="translate(547.80,155.60) scale(0.96,1)" class="na" fill="#110e16">Na+</text>
<circle cx="509" cy="201.3" r="22.1" fill="#ffffff" stroke="#c81f57" stroke-width="2.2"/><text transform="translate(490.00,210.90) scale(0.96,1)" class="na" fill="#110e16">Na+</text>
<circle cx="817.8" cy="156.5" r="22.1" fill="#ffffff" stroke="#c81f57" stroke-width="2.2"/><text transform="translate(798.80,166.10) scale(0.96,1)" class="na" fill="#110e16">Na+</text>
<circle cx="780" cy="236.8" r="22.1" fill="#ffffff" stroke="#c81f57" stroke-width="2.2"/><text transform="translate(761.00,246.40) scale(0.96,1)" class="na" fill="#110e16">Na+</text>
<circle cx="334.3" cy="675.3" r="22.1" fill="#ffffff" stroke="#c81f57" stroke-width="2.2"/><text transform="translate(315.30,684.90) scale(0.96,1)" class="na" fill="#110e16">Na+</text>
<circle cx="548.4" cy="646.8" r="22.1" fill="#ffffff" stroke="#c81f57" stroke-width="2.2"/><text transform="translate(529.40,656.40) scale(0.96,1)" class="na" fill="#110e16">Na+</text>
<circle cx="849" cy="671" r="22.1" fill="#ffffff" stroke="#c81f57" stroke-width="2.2"/><text transform="translate(830.00,680.60) scale(0.96,1)" class="na" fill="#110e16">Na+</text>
<circle cx="345.7" cy="231.9" r="24.9" fill="#607bbd" stroke="#13276f" stroke-width="2.3"/><text transform="translate(335.20,240.90) scale(0.97,1)" class="kk" fill="#ffffff">K+</text>
<circle cx="625" cy="201.3" r="24.9" fill="#607bbd" stroke="#13276f" stroke-width="2.3"/><text transform="translate(614.50,210.30) scale(0.97,1)" class="kk" fill="#ffffff">K+</text>
<circle cx="720.7" cy="169.4" r="24.9" fill="#607bbd" stroke="#13276f" stroke-width="2.3"/><text transform="translate(710.20,178.40) scale(0.97,1)" class="kk" fill="#ffffff">K+</text>
<circle cx="372.2" cy="610.3" r="24.9" fill="#607bbd" stroke="#13276f" stroke-width="2.3"/><text transform="translate(361.70,619.30) scale(0.97,1)" class="kk" fill="#ffffff">K+</text>
<circle cx="455.1" cy="592.6" r="24.9" fill="#607bbd" stroke="#13276f" stroke-width="2.3"/><text transform="translate(444.60,601.60) scale(0.97,1)" class="kk" fill="#ffffff">K+</text>
<circle cx="432.8" cy="661.8" r="24.9" fill="#607bbd" stroke="#13276f" stroke-width="2.3"/><text transform="translate(422.30,670.80) scale(0.97,1)" class="kk" fill="#ffffff">K+</text>
<circle cx="854.6" cy="595" r="24.9" fill="#607bbd" stroke="#13276f" stroke-width="2.3"/><text transform="translate(844.10,604.00) scale(0.97,1)" class="kk" fill="#ffffff">K+</text>
<circle cx="783.4" cy="645.8" r="24.9" fill="#607bbd" stroke="#13276f" stroke-width="2.3"/><text transform="translate(772.90,654.80) scale(0.97,1)" class="kk" fill="#ffffff">K+</text>
<path d="M640.1,632.1 C636,622 632,612 632,603 C632,594 636,586 642.2,581.5 C648,577 658,574.5 668.1,574 L668.1,567 L698.2,579.9 L674.5,592.8 L672.4,585.3 C665,585 656,586 650.8,588 C646,590 642,596 640.5,603 C639,612 639.5,622 640.1,632.1 Z" fill="#6c8c24"/>
<ellipse cx="736.2" cy="587.7" rx="32.3" ry="19" fill="#bcd874" stroke="#6d8a2a" stroke-width="1.8"/>
<text x="714" y="595.5" class="atp" fill="#111018">ADP</text>
<ellipse cx="684.2" cy="642.6" rx="32.8" ry="19" fill="#8ab526" stroke="#5e7d1c" stroke-width="1.8"/>
<text x="664" y="651" class="atp" fill="#111018">ATP</text>
</svg>
</body></html>
